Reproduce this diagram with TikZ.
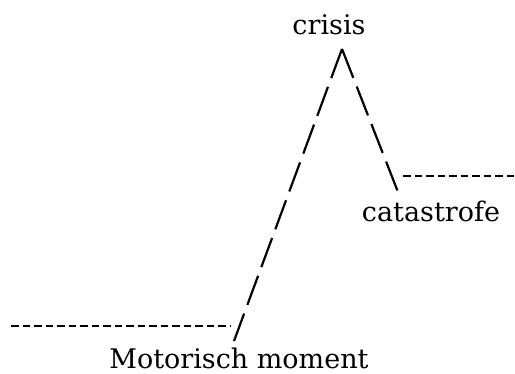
\documentclass[tikz,border=0pt]{standalone}
\usepackage{fontspec}
\setmainfont{DejaVu Serif}
\usetikzlibrary{positioning}

\begin{document}
\begin{tikzpicture}[
        x=1pt, y=-1pt,
        % Style for the three stage labels
        stagelabel/.style={anchor=base, inner sep=0pt, font=\fontsize{27}{32}\selectfont},
        % Styles for the flat and the slanted dashed lines
        flatline/.style={line width=2.2pt, dash pattern=on 7.5pt off 4pt},
        slopeline/.style={line width=2.2pt, dash pattern=on 31pt off 9.3pt}
    ]
    \useasboundingbox (0,0) rectangle (515,374);

    % --- CORNER POINTS ---
    \coordinate (start) at (11,326);
    \coordinate (rest) at (231,326);
    \coordinate (foot) at (234,341);
    \coordinate (peak) at (342,49);
    \coordinate (knee) at (398,192);
    \coordinate (after) at (403,176);
    \coordinate (end) at (515,176);

    % --- LABELS ---
    \node (crisis) [stagelabel] at (329,35) {crisis};
    \node (catastrofe) [stagelabel] at (431,222) {catastrofe};
    \node (motorisch) [stagelabel] at (239,369) {Motorisch moment};

    % --- LINES ---
    \draw [flatline] (start) -- (rest);
    \draw [slopeline] (peak) -- (foot);
    \draw [slopeline] (peak) -- (knee);
    \draw [flatline] (after) -- (end);

\end{tikzpicture}
\end{document}
